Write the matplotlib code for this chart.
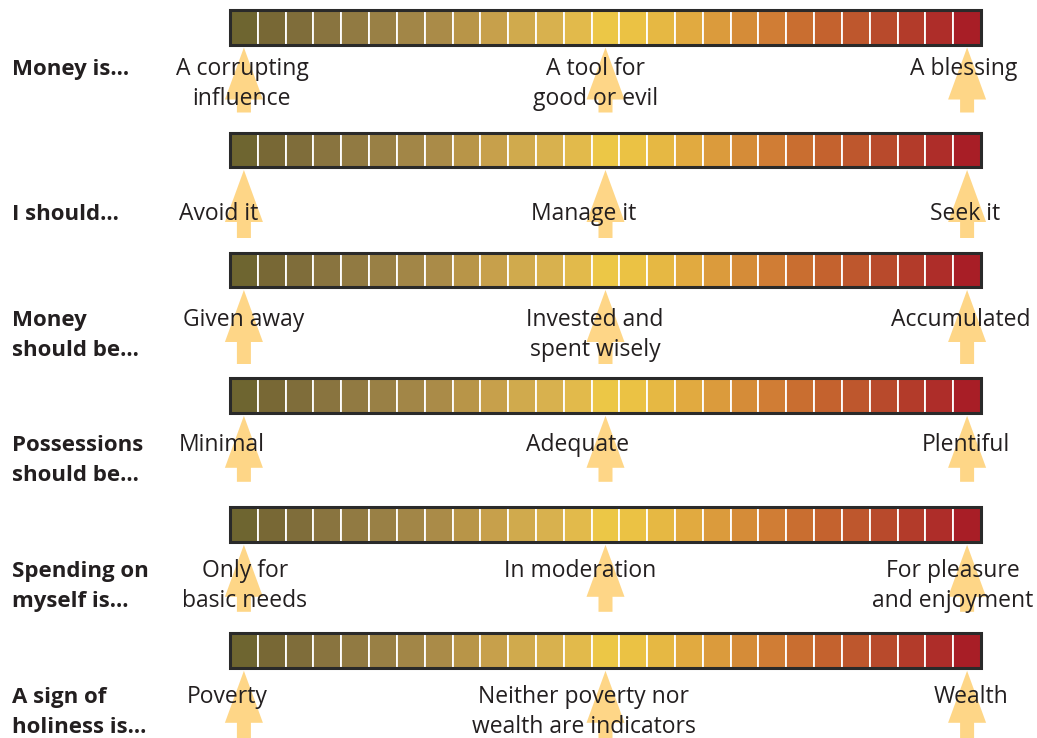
import matplotlib
matplotlib.use("Agg")
import matplotlib.pyplot as plt
import numpy as np

# --- data ---
row_labels = ["Money is...", "I should...", "Money\nshould be...", "Possessions\nshould be...",
              "Spending on\nmyself is...", "A sign of\nholiness is..."]
left_text = ["A corrupting\ninfluence", "Avoid it", "Given away", "Minimal",
             "Only for\nbasic needs", "Poverty"]
mid_text = ["A tool for\ngood or evil", "Manage it", "Invested and\nspent wisely", "Adequate",
            "In moderation", "Neither poverty nor\nwealth are indicators"]
right_text = ["A blessing", "Seek it", "Accumulated", "Plentiful",
              "For pleasure\nand enjoyment", "Wealth"]
n_cells = 27
arrow_cells = [0, 13, 26]
cell_colors = ["#6E6530", "#786835", "#7F6D3A", "#89743F", "#917A42", "#998045", "#A28647",
               "#AA8B48", "#B89548", "#C7A04B", "#D0AA4D", "#D8B14E", "#E2BA4B", "#ECC746",
               "#EBC244", "#E6B843", "#E1AA40", "#DB9B3C", "#D58C38", "#D07D35", "#C96E30",
               "#C4622E", "#BE572D", "#B84A2C", "#B33B2A", "#AE2D29", "#A81E26"]

# --- layout (pixels) ---
W, H = 1037, 738
bar_x0, bar_x1 = 230, 981
bar_h = 34.5
bar_tops = [10, 132.5, 252.5, 378.3, 507.3, 633.3]
baselines = [75, 220, 326, 450.7, 577.3, 703.3]
line_gap = 30
arrow_len = [65, 68, 74, 66, 67, 70]
left_x = [242, 219, 244, 222, 245, 227]
mid_x = [596, 584, 595, 578, 580, 584]
right_x = [964, 965, 961, 966, 953, 971]
text_color = "#231F20"
arrow_color = "#FED687"

plt.rcParams['font.family'] = ['Open Sans', 'DejaVu Sans']

fig = plt.figure(figsize=(W / 100, H / 100), dpi=100)
ax = fig.add_axes([0, 0, 1, 1])
ax.set_xlim(0, W)
ax.set_ylim(H, 0)
ax.axis('off')

cw = (bar_x1 - bar_x0) / n_cells
centers = bar_x0 + (np.arange(n_cells) + 0.5) * cw


def put_lines(x, y, text, **kw):
    for k, line in enumerate(text.split("\n")):
        ax.text(x, y + k * line_gap, line, va='baseline', color=text_color, zorder=5, **kw)


for r in range(len(row_labels)):
    top = bar_tops[r]
    ax.bar(centers, bar_h, bottom=top, width=cw, color=cell_colors,
           edgecolor='#FFFFFF', linewidth=1.3, zorder=2)
    ax.add_patch(plt.Rectangle((bar_x0, top), bar_x1 - bar_x0, bar_h, fill=False,
                               edgecolor='#2A2A2A', linewidth=2.2, zorder=3))
    tip = top + bar_h + 3
    for c in arrow_cells:
        ax.arrow(centers[c], tip + arrow_len[r], 0, -arrow_len[r], width=14, head_width=38,
                 head_length=52, length_includes_head=True, color=arrow_color, lw=0, zorder=1)
    y = baselines[r]
    put_lines(12, y, row_labels[r], ha='left', fontsize=16, fontweight='bold')
    put_lines(left_x[r], y, left_text[r], ha='center', fontsize=16.5)
    put_lines(mid_x[r], y, mid_text[r], ha='center', fontsize=16.5)
    put_lines(right_x[r], y, right_text[r], ha='center', fontsize=16.5)

fig.savefig("out.png", dpi=100)
